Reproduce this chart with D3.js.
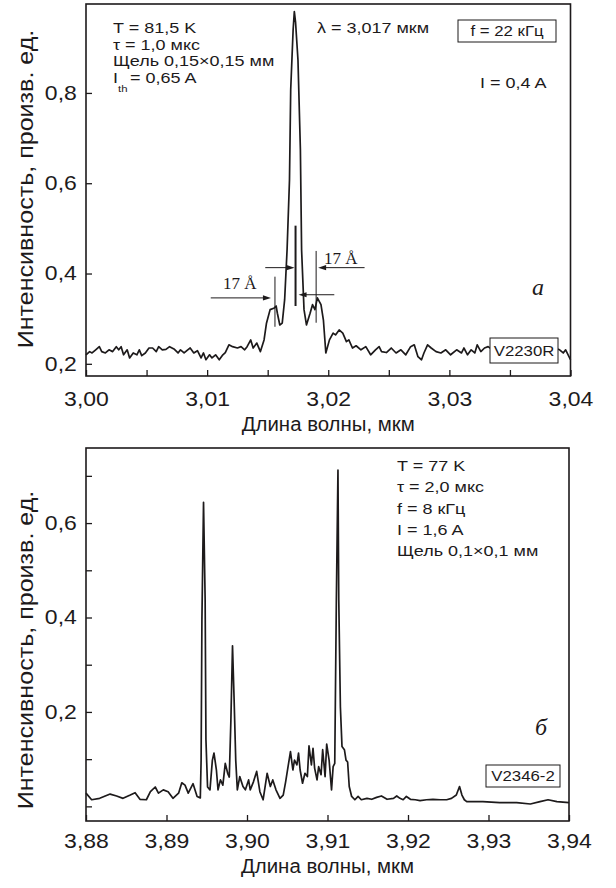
<!DOCTYPE html>
<html><head><meta charset="utf-8">
<script src="https://cdn.jsdelivr.net/npm/d3@7"></script>
<style>body{margin:0;background:#fff}svg{display:block}</style>
</head><body>
<svg id="chart" width="616" height="888"></svg>
<script>
// ---- Spectrum (а): sample V2230R ----
const wlA = [3.0000,3.0003,3.0005,3.0008,3.0011,3.0013,3.0016,3.0019,3.0022,3.0025,3.0027,3.0029,3.0031,3.0034,3.0036,3.0039,3.0042,3.0044,3.0046,3.0049,3.0052,3.0055,3.0058,3.0060,3.0063,3.0066,3.0069,3.0073,3.0076,3.0078,3.0081,3.0084,3.0086,3.0089,3.0092,3.0095,3.0097,3.0099,3.0102,3.0104,3.0107,3.0110,3.0113,3.0115,3.0118,3.0121,3.0125,3.0128,3.0131,3.0133,3.0136,3.0138,3.0141,3.0144,3.0147,3.0149,3.0152,3.0155,3.0157,3.0158,3.0160,3.0162,3.0164,3.0166,3.0168,3.0169,3.0171,3.0172,3.0173,3.0175,3.0177,3.0178,3.0180,3.0182,3.0185,3.0187,3.0189,3.0191,3.0194,3.0196,3.0198,3.0201,3.0204,3.0206,3.0209,3.0212,3.0215,3.0217,3.0220,3.0223,3.0227,3.0231,3.0235,3.0239,3.0242,3.0244,3.0248,3.0252,3.0256,3.0260,3.0264,3.0268,3.0271,3.0274,3.0277,3.0279,3.0282,3.0285,3.0289,3.0293,3.0297,3.0301,3.0306,3.0310,3.0312,3.0315,3.0318,3.0321,3.0323,3.0326,3.0329,3.0332,3.0337,3.0345,3.0354,3.0362,3.0370,3.0379,3.0387,3.0391,3.0394,3.0396,3.0400];
const intA = [0.220,0.227,0.224,0.231,0.238,0.227,0.224,0.231,0.227,0.238,0.231,0.238,0.220,0.231,0.213,0.224,0.220,0.231,0.218,0.224,0.235,0.235,0.227,0.238,0.231,0.232,0.238,0.232,0.224,0.231,0.224,0.231,0.235,0.224,0.229,0.213,0.224,0.209,0.220,0.213,0.220,0.209,0.220,0.225,0.242,0.238,0.235,0.238,0.231,0.238,0.253,0.235,0.246,0.227,0.253,0.290,0.320,0.323,0.328,0.312,0.286,0.290,0.342,0.452,0.607,0.807,0.940,0.980,0.957,0.873,0.674,0.452,0.320,0.286,0.312,0.331,0.320,0.346,0.331,0.297,0.224,0.253,0.268,0.264,0.275,0.268,0.249,0.253,0.235,0.240,0.231,0.238,0.220,0.231,0.238,0.227,0.225,0.235,0.224,0.231,0.220,0.238,0.242,0.216,0.209,0.224,0.242,0.235,0.227,0.224,0.231,0.220,0.231,0.224,0.235,0.220,0.231,0.224,0.242,0.227,0.235,0.238,0.228,0.232,0.224,0.233,0.226,0.230,0.235,0.231,0.224,0.231,0.209];

// ---- Spectrum (б): sample V2346-2 ----
const wlB = [3.8800,3.8807,3.8817,3.8830,3.8838,3.8846,3.8855,3.8861,3.8867,3.8875,3.8880,3.8886,3.8890,3.8896,3.8902,3.8908,3.8915,3.8919,3.8923,3.8927,3.8933,3.8938,3.8942,3.8943,3.8944,3.8946,3.8948,3.8949,3.8951,3.8954,3.8957,3.8959,3.8962,3.8964,3.8967,3.8970,3.8973,3.8976,3.8978,3.8980,3.8982,3.8984,3.8986,3.8988,3.8991,3.8995,3.8998,3.9002,3.9004,3.9008,3.9012,3.9016,3.9020,3.9025,3.9029,3.9032,3.9036,3.9041,3.9045,3.9048,3.9051,3.9054,3.9057,3.9059,3.9062,3.9064,3.9066,3.9069,3.9072,3.9075,3.9077,3.9080,3.9082,3.9084,3.9087,3.9089,3.9092,3.9094,3.9097,3.9099,3.9102,3.9105,3.9107,3.9109,3.9111,3.9113,3.9114,3.9116,3.9118,3.9121,3.9123,3.9125,3.9127,3.9130,3.9134,3.9138,3.9142,3.9149,3.9155,3.9161,3.9167,3.9174,3.9182,3.9186,3.9190,3.9194,3.9198,3.9203,3.9209,3.9215,3.9223,3.9231,3.9240,3.9248,3.9254,3.9260,3.9264,3.9267,3.9270,3.9273,3.9281,3.9293,3.9314,3.9335,3.9352,3.9364,3.9374,3.9385,3.9400];
const intB = [0.028,0.014,0.017,0.026,0.022,0.017,0.024,0.029,0.015,0.014,0.031,0.041,0.028,0.035,0.031,0.017,0.028,0.050,0.045,0.028,0.048,0.021,0.018,0.098,0.395,0.644,0.437,0.141,0.041,0.035,0.098,0.113,0.077,0.035,0.056,0.045,0.091,0.070,0.062,0.183,0.340,0.225,0.098,0.035,0.063,0.042,0.035,0.056,0.035,0.052,0.074,0.031,0.014,0.070,0.042,0.056,0.035,0.017,0.024,0.052,0.084,0.116,0.077,0.098,0.088,0.113,0.077,0.049,0.070,0.063,0.128,0.088,0.123,0.081,0.056,0.084,0.067,0.120,0.063,0.132,0.098,0.035,0.084,0.091,0.437,0.712,0.437,0.211,0.127,0.120,0.098,0.094,0.042,0.021,0.014,0.021,0.014,0.017,0.015,0.019,0.022,0.015,0.017,0.022,0.017,0.014,0.021,0.015,0.014,0.012,0.014,0.015,0.014,0.014,0.017,0.024,0.042,0.024,0.014,0.010,0.010,0.010,0.008,0.008,0.005,0.010,0.014,0.010,0.008];

// ---- Axis ticks ----
const xTicksA = [3.000,3.005,3.010,3.015,3.020,3.025,3.030,3.035,3.040];
const xLabelsA = [3.00,3.01,3.02,3.03,3.04];
const yTicksA = [0.2,0.4,0.6,0.8];
const xTicksB = [3.88,3.89,3.90,3.91,3.92,3.93,3.94];
const yTicksB = [0.0,0.1,0.2,0.3,0.4,0.5,0.6,0.7];
const yLabelsB = [0.2,0.4,0.6];

// ---- Annotation text ----
const notesA = ["T = 81,5 K", "\u03c4 = 1,0 мкс", "Щель 0,15\u00d70,15 мм"];
const notesB = ["T = 77 K", "\u03c4 = 2,0 мкс", "f = 8 кГц", "I = 1,6 A", "Щель 0,1\u00d70,1 мм"];
const peakLabelA = "\u03bb = 3,017 мкм";
const freqLabelA = "f = 22 кГц";
const currentLabelA = "I = 0,4 A";
const sampleA = "V2230R";
const sampleB = "V2346-2";
// Mode spacing markers: centre line and neighbours 17 Å (0,0017 мкм) apart
const modeCentre = 3.0173, modeStep = 0.0017;

const SANS = "'Liberation Sans', Arial, Helvetica, sans-serif";
const SERIF = "'Liberation Serif', 'Times New Roman', serif";
const INK = "#1d1a1b";
const fmt2 = v => d3.format(".2f")(v).replace(".", ",");
const fmt1 = v => d3.format(".1f")(v).replace(".", ",");
const NOTE = {size: 15, sx: 1.2};

const svg = d3.select("#chart");

function text(g, x, y, str, o = {}) {
  return g.append("text")
    .attr("transform", `translate(${x},${y})${o.rot ? ` rotate(${o.rot})` : ""} scale(${o.sx || 1},1)`)
    .attr("font-family", o.family || SANS)
    .attr("font-size", o.size || 14)
    .attr("font-style", o.style || "normal")
    .attr("text-anchor", o.anchor || "start")
    .attr("fill", INK)
    .text(str);
}

function panel(cfg) {
  const {left, right, top, bottom} = cfg;
  const x = d3.scaleLinear().domain(cfg.xDomain).range([left, right]);
  const y = d3.scaleLinear().domain(cfg.yDomain).range([bottom, top]);
  const g = svg.append("g");

  // spectrum trace
  const line = d3.line().x((d, i) => x(cfg.wl[i])).y(d => y(d));
  g.append("path").datum(cfg.values)
    .attr("d", line).attr("fill", "none")
    .attr("stroke", INK).attr("stroke-width", 1.7).attr("stroke-linejoin", "round");

  // axes with inward ticks
  const xa = g.append("g").attr("transform", `translate(0,${bottom})`)
    .call(d3.axisBottom(x).tickValues(cfg.xTicks).tickSize(-6).tickPadding(cfg.xPad)
      .tickFormat(v => cfg.xLabels.some(l => Math.abs(l - v) < 1e-9) ? cfg.xFmt(v) : ""));
  const ya = g.append("g").attr("transform", `translate(${left},0)`)
    .call(d3.axisLeft(y).tickValues(cfg.yTicks).tickSize(-6).tickPadding(8)
      .tickFormat(v => cfg.yLabels.some(l => Math.abs(l - v) < 1e-9) ? fmt1(v) : ""));
  [xa, ya].forEach(a => {
    a.select(".domain").remove();
    a.selectAll("line").attr("stroke", INK).attr("stroke-width", 1.3);
    a.selectAll("text").attr("font-family", SANS).attr("font-size", 20)
      .attr("fill", INK).attr("transform", "scale(1.15,1)");
  });

  // frame
  g.append("rect").attr("x", left).attr("y", top)
    .attr("width", right - left).attr("height", bottom - top)
    .attr("fill", "none").attr("stroke", INK).attr("stroke-width", 1.6);

  // axis titles
  text(g, (left + right) / 2, cfg.xTitleY, "Длина волны, мкм", {size: 20, anchor: "middle", sx: 1.02});
  text(g, 33, cfg.yTitleY, "Интенсивность, произв. ед.", {size: 22, anchor: "middle", rot: -90, sx: 1.14});
  return {g, x, y};
}

function labelBox(g, x0, y0, w, h, str, size) {
  g.append("rect").attr("x", x0).attr("y", y0).attr("width", w).attr("height", h)
    .attr("fill", "#fff").attr("stroke", INK).attr("stroke-width", 1);
  text(g, x0 + w / 2, y0 + h / 2 + size * 0.36, str, {size, anchor: "middle", sx: 1.12});
}

function arrow(g, x1, x2, yy) {
  const dir = Math.sign(x2 - x1);
  g.append("line").attr("x1", x1).attr("x2", x2 - dir * 5).attr("y1", yy).attr("y2", yy)
    .attr("stroke", INK).attr("stroke-width", 1);
  g.append("path")
    .attr("d", `M${x2},${yy} L${x2 - dir * 8},${yy - 2.6} L${x2 - dir * 8},${yy + 2.6} Z`)
    .attr("fill", INK);
}

// ---------- Panel а ----------
const A = panel({
  left: 86, right: 570.5, top: 4, bottom: 376,
  xDomain: [3.00, 3.04], yDomain: [0.173, 0.997],
  wl: wlA, values: intA,
  xTicks: xTicksA, xLabels: xLabelsA, xFmt: fmt2, xPad: 16,
  yTicks: yTicksA, yLabels: yTicksA,
  xTitleY: 431, yTitleY: 189
});

labelBox(A.g, 490, 338, 68, 25, sampleA, 15);
notesA.forEach((s, i) => text(A.g, 113, 33 + i * 16.7, s, NOTE));
{
  const t = text(A.g, 113, 83, "I", NOTE);
  t.append("tspan").attr("font-size", 9.5).attr("dy", 9).text("th");
  t.append("tspan").attr("dy", -9).attr("dx", 2).text("= 0,65 A");
}
text(A.g, 317, 33, peakLabelA, NOTE);
labelBox(A.g, 458, 20, 98, 22, freqLabelA, 15);
text(A.g, 480, 88, currentLabelA, NOTE);
text(A.g, 538, 295, "а", {size: 24, anchor: "middle", family: SERIF, style: "italic"});

// mode markers
const xl = A.x(modeCentre - modeStep), xc = A.x(modeCentre), xr = A.x(modeCentre + modeStep);
A.g.append("line").attr("x1", xl).attr("x2", xl).attr("y1", A.y(0.393)).attr("y2", A.y(0.282))
  .attr("stroke", INK).attr("stroke-width", 1);
A.g.append("line").attr("x1", xc).attr("x2", xc).attr("y1", A.y(0.506)).attr("y2", A.y(0.328))
  .attr("stroke", INK).attr("stroke-width", 2);
A.g.append("line").attr("x1", xr).attr("x2", xr).attr("y1", A.y(0.45)).attr("y2", A.y(0.291))
  .attr("stroke", INK).attr("stroke-width", 1);
arrow(A.g, A.x(3.0103), xl - 4, A.y(0.346));
arrow(A.g, A.x(3.0148), xc - 1, A.y(0.413));
arrow(A.g, A.x(3.0205), xc + 3, A.y(0.353));
arrow(A.g, A.x(3.0230), xr + 2, A.y(0.413));
text(A.g, 223, 289, "17 Å", {size: 17, family: SERIF});
text(A.g, 324, 264, "17 Å", {size: 17, family: SERIF});

// ---------- Panel б ----------
const B = panel({
  left: 86, right: 569, top: 448, bottom: 821,
  xDomain: [3.88, 3.94], yDomain: [-0.031, 0.759],
  wl: wlB, values: intB,
  xTicks: xTicksB, xLabels: xTicksB, xFmt: fmt2, xPad: 13,
  yTicks: yTicksB, yLabels: yLabelsB,
  xTitleY: 873, yTitleY: 650
});
notesB.forEach((s, i) => text(B.g, 397, 471 + i * 21.3, s, NOTE));
labelBox(B.g, 486, 765, 74, 22, sampleB, 15);
text(B.g, 541, 735, "б", {size: 24, anchor: "middle", family: SERIF, style: "italic"});
</script>
</body></html>
